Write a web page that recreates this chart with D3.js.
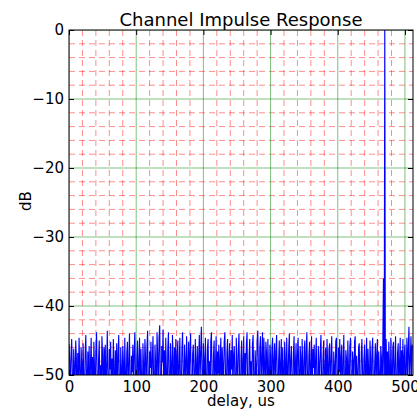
<!DOCTYPE html>
<html>
<head>
<meta charset="utf-8">
<script src="https://cdn.jsdelivr.net/npm/d3@7"></script>
<style>
  body { margin: 0; background: #fff; }
  text { font-family: "DejaVu Sans", sans-serif; }
</style>
</head>
<body>
<figure id="chart" style="margin:0"></figure>
<script>
// delay step of the samples, us
const delayStep = 1;
// impulse response magnitude in dB, one value every 1 us (0..511)
const responseDb = [
  -45.5,-48,-53,-47,-44.8,-50,-56,-46.2,-49,-52,-45,-47.6,-58,-46.8,-51,-44.6,
  -49.5,-55,-46,-48.4,-52.6,-45.4,-50.2,-60,-47,-44.2,-49.8,-54,-46.6,-51.4,-45.8,-57,
  -48.2,-44.6,-52,-47.4,-55.6,-45.2,-49,-53.4,-46.4,-43.8,-50.6,-58,-47.8,-45,-51.8,-48.6,
  -54.4,-44.4,-47.2,-56,-46,-50.4,-45.6,-53,-48.8,-43.6,-51,-57,-46.2,-49.2,-45.2,-55,
  -47.6,-52.2,-44.8,-48.6,-59,-46.4,-50.8,-45.4,-54,-47,-44.2,-51.6,-56.4,-46,-49.4,-53,
  -45.8,-48.2,-57,-44.6,-50,-52.8,-46.8,-45.2,-55.4,-48,-44,-51.2,-58,-47.2,-49.6,-45.6,
  -53.6,-46.6,-43.8,-50.6,-56,-47.4,-45,-52,-48.4,-44.6,-54.8,-46.2,-50.2,-59,-45.4,-48.8,
  -52.4,-44.8,-47.6,-55,-46,-43.6,-51.4,-57.4,-46.6,-49,-45.2,-53.8,-47.8,-44.4,-50.8,-56,
  -45.6,-48.4,-53,-43.8,-47,-55.2,-44.6,-42.8,-50.4,-58,-45.8,-48.2,-43.4,-52,-46.4,-54.6,
  -44.6,-49.4,-57,-46.2,-43.8,-51,-55,-45.4,-48.8,-52.6,-44.2,-47.4,-59,-46,-50.2,-44.8,
  -53.4,-47.2,-45,-56.2,-48.4,-44.6,-51.8,-54,-46.4,-43.8,-49.6,-57,-45.6,-48,-52.4,-44.4,
  -47.8,-55.6,-45.2,-50.8,-46.6,-44,-53.2,-58,-47,-45.6,-50,-54.8,-44.8,-48.6,-52,-45.8,
  -56,-47.4,-44.2,-51.4,-46.8,-43,-49.6,-55,-45.4,-47.8,-52.8,-44.6,-50.4,-57.6,-46.2,-44.8,
  -51.2,-48,-54.4,-45.2,-43.8,-50.6,-56.6,-47.2,-45,-52.2,-48.6,-44.4,-55,-46.6,-49.8,-45.6,
  -53,-47.6,-44.6,-58,-46,-48.8,-51.6,-45.2,-43.8,-50.2,-55.8,-46.8,-44.8,-52.4,-48.2,-45.4,
  -57,-46.4,-49.2,-44.2,-53.6,-47,-45.8,-51,-55.2,-44.6,-48.4,-52.6,-46.2,-44,-50.8,-58,
  -47.4,-45,-52.8,-48.6,-44.4,-55,-46.8,-50.4,-45.6,-43.8,-53.2,-57,-47.2,-44.8,-51.6,-48,
  -54.6,-45.6,-44.2,-50.8,-56,-46.4,-48.8,-52,-45,-43.6,-49.6,-58,-46,-44.4,-51.2,-47.6,
  -43.8,-55,-44.6,-48.4,-52.4,-45.2,-46.8,-57,-44.8,-49.8,-53.8,-45.6,-47.2,-59,-46.2,-44.6,
  -51.8,-48.2,-45.4,-54.6,-46.6,-44.2,-50.6,-56,-47.8,-45,-52.8,-48.4,-44.8,-55.4,-46,-49.6,
  -53,-45.2,-47.6,-57.6,-44.6,-49.2,-51.4,-46.2,-44,-54,-48,-45.8,-50.6,-58,-46.8,-44.4,
  -52.2,-48.6,-45.4,-55.6,-47,-44.6,-50,-53.6,-45.8,-47.4,-56.4,-44.8,-49.4,-51.8,-46.4,-45,
  -57.4,-46.8,-43.8,-50.4,-54,-47.2,-45.2,-52.6,-48.8,-44.4,-55.8,-46.2,-49,-45.6,-53.2,-47.8,
  -44.6,-51.4,-58,-45.8,-48.2,-52,-46.4,-44.2,-50.8,-55,-47.6,-45,-53.4,-49.2,-46,-56.6,
  -44.8,-48.4,-52.6,-46.2,-45.4,-54.6,-47.8,-44.4,-50.2,-57,-46.6,-48.8,-53,-45.2,-44.6,-51.6,
  -55.2,-46,-49.6,-44.8,-52.4,-47.4,-45.6,-58,-48.2,-44.2,-51,-54.4,-46.4,-47.6,-56,-45,
  -49,-53.6,-45.8,-44.6,-50.8,-57.2,-46.6,-48,-52.2,-45.2,-44.4,-55,-47.2,-49.8,-53,-46,
  -45.4,-51.6,-58.4,-46.8,-44.8,-50,-54.2,-47.6,-45.6,-52.8,-48.6,-44.6,-56,-46.2,-49.4,-53.4,
  -45,-47.8,-57.6,-46.4,-44.6,-51.2,-54,-48.2,-45.4,-52.4,-47,-44.8,-55.6,-46.6,-49.8,-58,
  -45.8,-47.4,-53,-46.2,-36,-58,2,-57,-44.8,-50.6,-46.6,-53.4,-45.2,-48.8,-55,-44.6,
  -49.4,-52,-46,-45.2,-56.4,-48.6,-44.4,-51,-54.6,-46.8,-45.4,-53.2,-48,-44.6,-57,-46.4,
  -50,-44.8,-52.4,-47.2,-45.6,-55.8,-48.4,-44.6,-51.2,-46,-43,-53.6,-47.6,-44.4,-50.4,-45.6
];
const xTicks = [0, 100, 200, 300, 400, 500];
const yTicks = [-50, -40, -30, -20, -10, 0];
const xMinorTicks = d3.range(0, 520, 20);
const yMinorTicks = d3.range(-50, 1, 2);

let dimensions = {
    width: 417,
    height: 410,
    margin: { top: 30, right: 4, bottom: 35, left: 69 },
};
dimensions.boundedWidth = dimensions.width - dimensions.margin.left - dimensions.margin.right;
dimensions.boundedHeight = dimensions.height - dimensions.margin.top - dimensions.margin.bottom;

const data = responseDb.map((v, i) => ({ delay: i * delayStep, db: v }));

const root = d3.select("figure#chart")
    .append("svg")
    .attr("width", dimensions.width)
    .attr("height", dimensions.height);

const svg = root.append("g")
    .attr("transform", `translate(${dimensions.margin.left}, ${dimensions.margin.top})`);

const xScale = d3.scaleLinear().domain([0, 512]).range([0, dimensions.boundedWidth]);
const yScale = d3.scaleLinear().domain([-50, 0]).range([dimensions.boundedHeight, 0]);

svg.append("clipPath").attr("id", "clip")
    .append("rect")
    .attr("width", dimensions.boundedWidth)
    .attr("height", dimensions.boundedHeight);

// minor grid, red dashed
const grid = svg.append("g").attr("clip-path", "url(#clip)");
grid.selectAll(".xminor")
    .data(xMinorTicks.filter(d => d % 100 !== 0))
    .join("line")
    .attr("x1", d => xScale(d)).attr("x2", d => xScale(d))
    .attr("y1", 0).attr("y2", dimensions.boundedHeight)
    .attr("stroke", "#ff0000").attr("stroke-opacity", 0.45)
    .attr("stroke-dasharray", "6,4");
grid.selectAll(".yminor")
    .data(yMinorTicks.filter(d => d % 10 !== 0))
    .join("line")
    .attr("x1", 0).attr("x2", dimensions.boundedWidth)
    .attr("y1", d => yScale(d)).attr("y2", d => yScale(d))
    .attr("stroke", "#ff0000").attr("stroke-opacity", 0.45)
    .attr("stroke-dasharray", "6,4");

// major grid, green
grid.selectAll(".xmajor")
    .data(xTicks)
    .join("line")
    .attr("x1", d => xScale(d)).attr("x2", d => xScale(d))
    .attr("y1", 0).attr("y2", dimensions.boundedHeight)
    .attr("stroke", "#008000").attr("stroke-opacity", 0.5);
grid.selectAll(".ymajor")
    .data(yTicks)
    .join("line")
    .attr("x1", 0).attr("x2", dimensions.boundedWidth)
    .attr("y1", d => yScale(d)).attr("y2", d => yScale(d))
    .attr("stroke", "#008000").attr("stroke-opacity", 0.5);

// the response
svg.append("path")
    .datum(data)
    .attr("clip-path", "url(#clip)")
    .attr("fill", "none")
    .attr("stroke", "#0000ff")
    .attr("stroke-width", 1.1)
    .attr("d", d3.line().x(d => xScale(d.delay)).y(d => yScale(d.db)));

// axes with inward ticks (classic style)
const fmt = d => d3.format("d")(d).replace("-", "\u2212");
const xAxis = svg.append("g")
    .attr("transform", `translate(0, ${dimensions.boundedHeight})`)
    .call(d3.axisBottom(xScale).tickValues(xTicks).tickSize(-5).tickPadding(6).tickFormat(fmt));
const yAxis = svg.append("g")
    .call(d3.axisLeft(yScale).tickValues(yTicks).tickSize(-5).tickPadding(5).tickFormat(fmt));
const xTop = svg.append("g")
    .call(d3.axisTop(xScale).tickValues(xTicks).tickSize(-5).tickFormat(""));
const yRight = svg.append("g")
    .attr("transform", `translate(${dimensions.boundedWidth}, 0)`)
    .call(d3.axisRight(yScale).tickValues(yTicks).tickSize(-5).tickFormat(""));

[xAxis, yAxis, xTop, yRight].forEach(a => {
    a.select(".domain").remove();
    a.selectAll("line").attr("stroke", "#000");
    a.selectAll("text").attr("font-size", 15).attr("fill", "#000")
        .attr("font-family", "DejaVu Sans, sans-serif");
});

// frame
svg.append("rect")
    .attr("width", dimensions.boundedWidth)
    .attr("height", dimensions.boundedHeight)
    .attr("fill", "none")
    .attr("stroke", "#000")
    .attr("stroke-width", 1);

// labels
root.append("text")
    .attr("x", dimensions.margin.left + dimensions.boundedWidth / 2)
    .attr("y", 26)
    .attr("text-anchor", "middle")
    .attr("font-size", 18)
    .text("Channel Impulse Response");

root.append("text")
    .attr("x", dimensions.margin.left + dimensions.boundedWidth / 2)
    .attr("y", 406)
    .attr("text-anchor", "middle")
    .attr("font-size", 15)
    .text("delay, us");

root.append("text")
    .attr("transform", `translate(31, 201) rotate(-90)`)
    .attr("text-anchor", "middle")
    .attr("font-size", 15)
    .text("dB");
</script>
</body>
</html>
